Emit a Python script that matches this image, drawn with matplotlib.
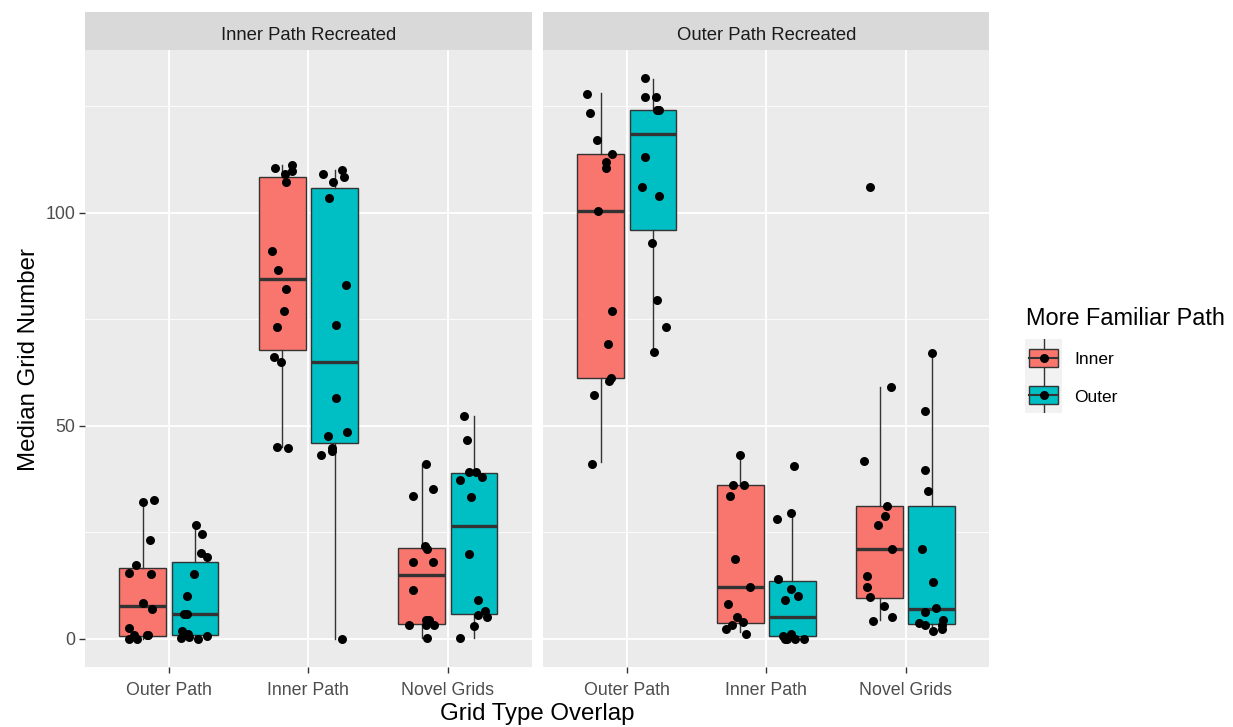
import numpy as np
import matplotlib.pyplot as plt
from matplotlib.patches import Rectangle

plt.rcParams['font.family'] = ['Liberation Sans', 'DejaVu Sans']

categories = ["Outer Path", "Inner Path", "Novel Grids"]
panels = ["Inner Path Recreated", "Outer Path Recreated"]
groups = ["Inner", "Outer"]
colors = ["#F8766D", "#00BFC4"]

# box stats per category: whisker low, q1, median, q3, whisker high
box_inrec_inner = [[0.0, 0.6, 7.7, 16.6, 32.4], [44.9, 67.8, 84.5, 108.5, 111.2], [0.2, 3.4, 15.0, 21.3, 41.1]]
box_inrec_outer = [[0.0, 0.9, 5.7, 18.0, 26.7], [0.0, 45.9, 65.0, 105.9, 110.1], [0.2, 5.7, 26.5, 38.8, 52.2]]
box_outrec_inner = [[41.4, 61.1, 100.4, 113.8, 128.0], [1.6, 3.7, 12.1, 36.0, 43.1], [4.4, 9.6, 21.1, 31.2, 59.1]]
box_outrec_outer = [[67.4, 95.9, 118.4, 124.0, 131.5], [0.0, 0.6, 5.1, 13.5, 29.6], [1.7, 3.4, 7.0, 31.2, 67.0]]

# per-subject medians
y_inrec_inner = [
    [32.2, 32.6, 23.2, 17.2, 15.5, 15.1, 8.3, 7.0, 2.6, 0.0, 0.8, 0.0, 0.8, 0.8],
    [110.5, 111.2, 109.9, 109.0, 107.1, 91.1, 86.6, 82.0, 77.0, 73.1, 66.1, 64.9, 45.0, 44.7],
    [41.1, 35.2, 33.5, 21.8, 21.0, 18.0, 18.0, 11.5, 3.1, 4.3, 4.3, 3.1, 3.1, 0.2],
]
y_inrec_outer = [
    [26.8, 24.5, 20.0, 19.1, 15.2, 10.1, 5.7, 5.7, 1.7, 0.2, 1.2, 0.5, 0.0, 0.6],
    [109.1, 110.1, 108.5, 107.1, 103.4, 83.0, 73.7, 56.6, 47.5, 48.6, 44.8, 44.1, 43.1, 0.0],
    [52.2, 46.7, 39.2, 39.2, 38.0, 37.2, 33.3, 19.8, 9.1, 5.6, 6.4, 5.1, 3.0, 0.2],
]
y_outrec_inner = [
    [127.9, 123.5, 117.0, 113.8, 112.0, 110.4, 100.4, 77.0, 69.2, 61.1, 60.4, 57.1, 41.1],
    [43.1, 36.1, 36.1, 33.4, 18.7, 12.1, 8.2, 5.2, 3.8, 3.1, 2.3, 1.2],
    [59.1, 41.6, 31.2, 28.7, 26.8, 21.1, 14.7, 12.1, 9.7, 7.7, 5.2, 4.2, 106.0],
]
y_outrec_outer = [
    [131.6, 127.1, 127.1, 124.0, 124.0, 113.0, 106.0, 104.0, 93.0, 79.6, 73.1, 67.4],
    [40.5, 29.6, 28.1, 14.1, 11.6, 10.1, 9.0, 0.6, 0.0, 1.2, 0.0, 0.0, 0.0],
    [67.0, 53.5, 39.7, 34.6, 21.1, 13.3, 7.1, 6.2, 3.7, 3.1, 4.3, 3.1, 2.3, 1.7],
]

# horizontal jitter of each point around its box centre
jit_inrec_inner = [
    [-0.00, 0.08, 0.05, -0.05, -0.10, 0.06, -0.00, 0.07, -0.10, -0.10, -0.06, -0.04, 0.03, 0.04],
    [-0.05, 0.07, 0.07, 0.02, 0.03, -0.07, -0.03, 0.03, 0.01, -0.04, -0.06, -0.01, -0.04, 0.04],
    [0.03, 0.08, -0.06, 0.02, 0.04, -0.06, 0.08, -0.06, -0.09, 0.03, 0.05, 0.03, 0.09, 0.04],
]
jit_inrec_outer = [
    [0.01, 0.05, 0.04, 0.09, -0.01, -0.06, -0.08, -0.06, -0.09, -0.10, -0.05, -0.04, 0.02, 0.09],
    [-0.08, 0.05, 0.07, -0.01, -0.04, 0.08, 0.01, 0.01, -0.05, 0.09, -0.02, -0.02, -0.10, 0.05],
    [-0.07, -0.05, -0.04, 0.01, 0.06, -0.10, -0.02, -0.04, 0.03, 0.03, 0.08, 0.09, 0.00, -0.10],
]
jit_outrec_inner = [
    [-0.10, -0.08, -0.03, 0.08, 0.04, 0.04, -0.02, 0.08, 0.05, 0.07, 0.06, -0.05, -0.06],
    [0.00, -0.05, 0.03, -0.07, -0.04, 0.07, -0.09, -0.02, 0.02, -0.06, -0.10, 0.04],
    [0.08, -0.11, 0.05, 0.04, -0.01, 0.09, -0.09, -0.09, -0.07, 0.03, 0.09, -0.05, -0.07],
]
jit_outrec_outer = [
    [-0.06, -0.06, 0.02, 0.03, 0.04, -0.06, -0.08, 0.04, -0.01, 0.03, 0.09, 0.01],
    [0.01, -0.01, -0.11, -0.10, -0.01, 0.04, -0.05, -0.07, -0.04, -0.01, 0.02, 0.08, -0.05],
    [0.00, -0.05, -0.05, -0.03, -0.07, 0.01, 0.03, -0.05, -0.09, -0.05, 0.08, 0.07, 0.07, 0.01],
]

panel_data = [
    [(box_inrec_inner, y_inrec_inner, jit_inrec_inner), (box_inrec_outer, y_inrec_outer, jit_inrec_outer)],
    [(box_outrec_inner, y_outrec_inner, jit_outrec_inner), (box_outrec_outer, y_outrec_outer, jit_outrec_outer)],
]

W, H = 1233, 727
fig = plt.figure(figsize=(W / 100, H / 100), dpi=100)
fig.patch.set_facecolor("white")

def fx(px):
    return px / W

def fy(py):
    return 1 - py / H

panel_x = [(85, 531.7), (543.3, 989.3)]
top, bottom, strip_top = 50, 666.7, 12
dodge = [-0.1875, 0.1875]
xs = np.arange(1, 4)
dot_size = 42

for pi, (x0, x1) in enumerate(panel_x):
    ax = fig.add_axes([fx(x0), fy(bottom), fx(x1 - x0), (bottom - top) / H])
    ax.set_facecolor("#EBEBEB")
    for s in ax.spines.values():
        s.set_visible(False)
    ax.set_xlim(0.4, 3.6)
    ax.set_ylim(-6.58, 138.2)
    ax.set_yticks([0, 50, 100])
    ax.set_yticks([25, 75, 125], minor=True)
    ax.set_xticks(xs)
    ax.set_xticklabels(categories)
    ax.grid(which="major", color="white", linewidth=1.3)
    ax.grid(which="minor", axis="y", color="white", linewidth=0.6)
    ax.set_axisbelow(True)
    ax.tick_params(which="major", length=4, width=1, color="#333333",
                   labelcolor="#4D4D4D", labelsize=12.8, pad=3)
    ax.tick_params(axis="x", pad=7)
    ax.tick_params(which="minor", length=0)
    if pi == 1:
        ax.tick_params(axis="y", left=False, labelleft=False)

    for gi, (stats, ys, jit) in enumerate(panel_data[pi]):
        bstats = [dict(whislo=s[0], q1=s[1], med=s[2], q3=s[3], whishi=s[4], fliers=[])
                  for s in stats]
        ax.bxp(bstats, positions=xs + dodge[gi], widths=0.335, patch_artist=True,
               showcaps=False, manage_ticks=False,
               boxprops=dict(facecolor=colors[gi], edgecolor="#333333", linewidth=1),
               medianprops=dict(color="#333333", linewidth=2.4, solid_capstyle="butt"),
               whiskerprops=dict(color="#333333", linewidth=1))
        for ci in range(3):
            ax.scatter(xs[ci] + dodge[gi] + np.array(jit[ci]), ys[ci], s=dot_size,
                       color="black", linewidths=0, zorder=3)

    # facet strip
    sax = fig.add_axes([fx(x0), fy(top), fx(x1 - x0), (top - strip_top) / H])
    sax.set_facecolor("#D9D9D9")
    sax.set_xticks([])
    sax.set_yticks([])
    for s in sax.spines.values():
        s.set_visible(False)
    sax.text(0.5, 0.38, panels[pi], ha="center", va="center", fontsize=13.3,
             color="#1A1A1A", transform=sax.transAxes)

fig.text(fx(537), fy(714), "Grid Type Overlap", ha="center", va="center", fontsize=17.3)
fig.text(fx(29), fy(360), "Median Grid Number", ha="center", va="center",
         rotation=90, fontsize=17.3)

# legend
fig.text(fx(1026), fy(318), "More Familiar Path", ha="left", va="center", fontsize=16.9)
for gi, name in enumerate(groups):
    k0 = 339 + gi * 37
    kax = fig.add_axes([fx(1025), fy(k0 + 37), fx(37), 37 / H])
    kax.set_xlim(0, 1)
    kax.set_ylim(0, 1)
    kax.set_facecolor("#F2F2F2")
    kax.set_xticks([])
    kax.set_yticks([])
    for s in kax.spines.values():
        s.set_visible(False)
    kax.plot([0.5, 0.5], [0.0, 1.0], color="#333333", linewidth=1)
    kax.add_patch(Rectangle((0.11, 0.24), 0.78, 0.5, facecolor=colors[gi],
                            edgecolor="#333333", linewidth=1, zorder=2))
    kax.plot([0.11, 0.89], [0.49, 0.49], color="#333333", linewidth=1.5, zorder=3)
    kax.scatter([0.5], [0.49], s=dot_size, color="black", linewidths=0, zorder=4)
    fig.text(fx(1074), fy(k0 + 21), name, ha="left", va="center", fontsize=12.5)

fig.savefig("out.png", dpi=100)
